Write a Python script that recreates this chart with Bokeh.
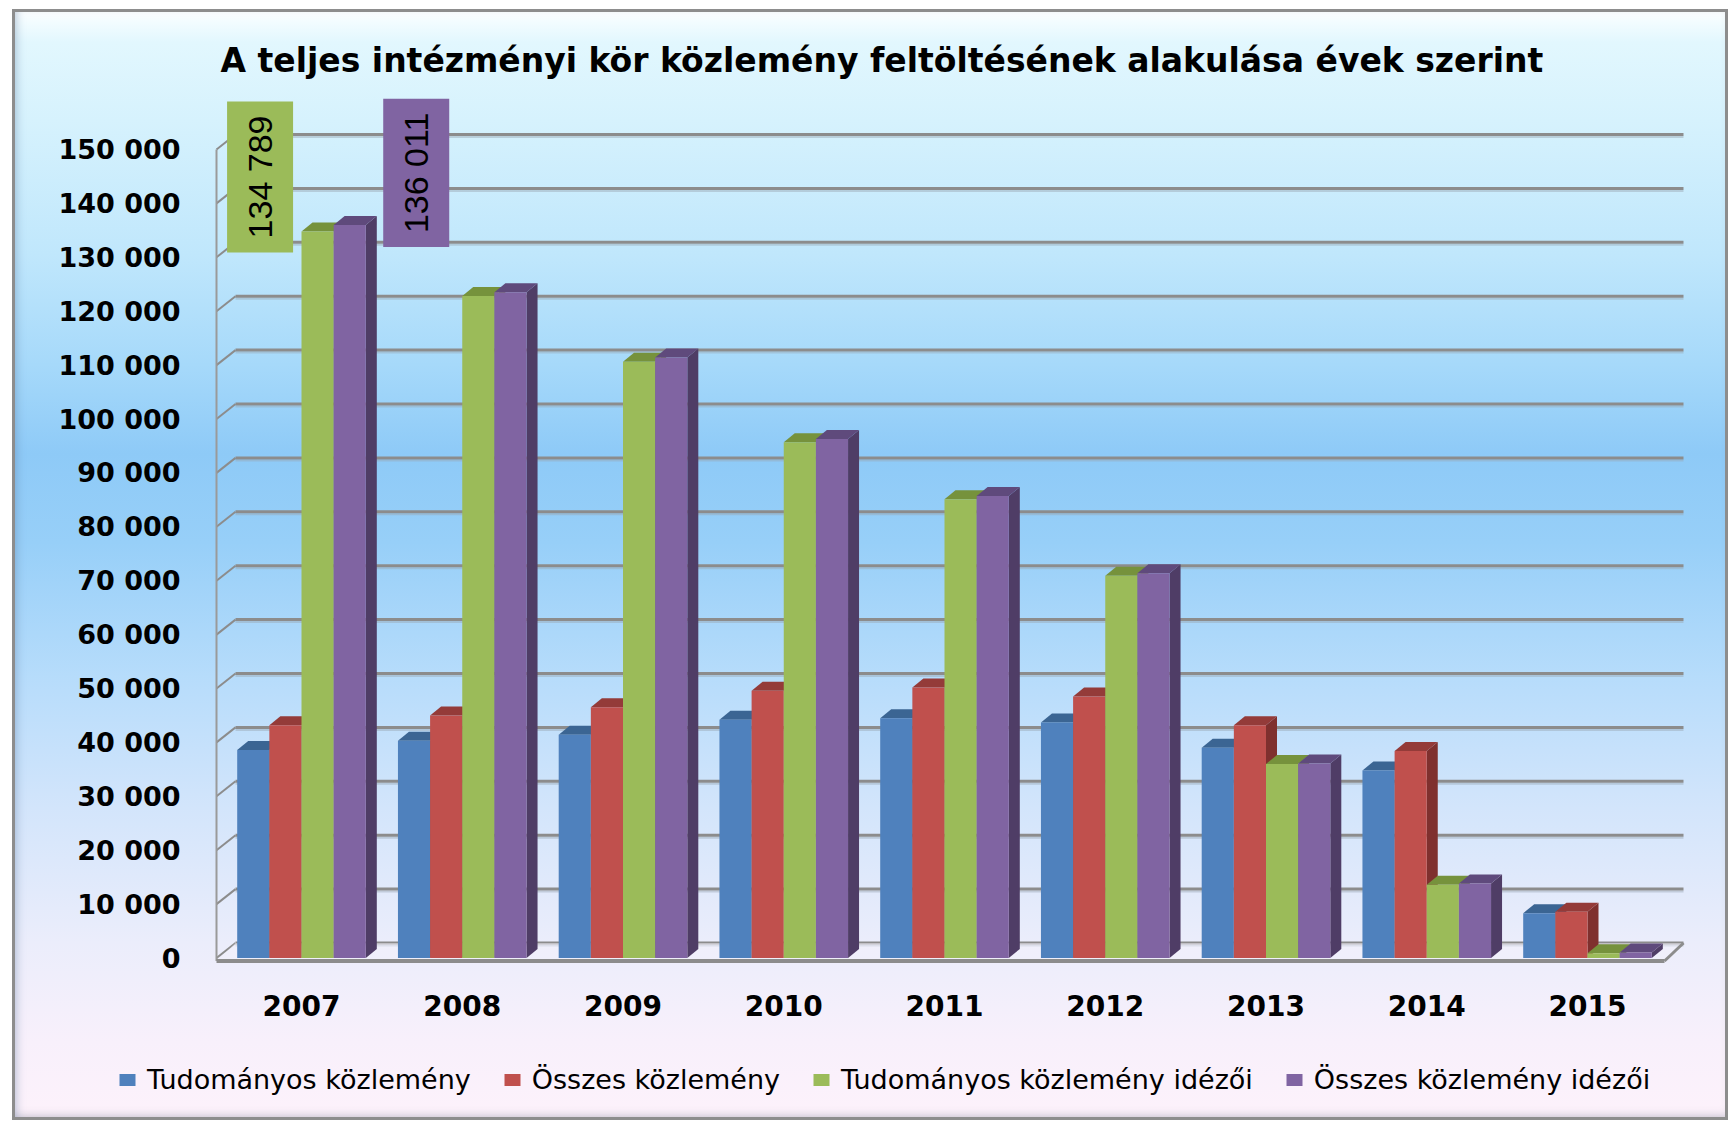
from bokeh.plotting import figure
from bokeh.models import Range1d, FixedTicker, Legend, LegendItem, Label
from bokeh.embed import file_html
from bokeh.resources import INLINE

# ---------------- data ----------------
years = ["2007", "2008", "2009", "2010", "2011", "2012", "2013", "2014", "2015"]
tudomanyos_kozlemeny = [38600, 40300, 41400, 44200, 44500, 43700, 39000, 34800, 8300]
osszes_kozlemeny = [43200, 45000, 46500, 49600, 50200, 48500, 43200, 38400, 8600]
tudomanyos_idezoi = [134789, 122800, 110600, 95700, 85100, 70900, 36000, 13600, 900]
osszes_idezoi = [136011, 123500, 111400, 96300, 85700, 71400, 36100, 13800, 1000]
series_names = ["Tudományos közlemény", "Összes közlemény",
                "Tudományos közlemény idézői", "Összes közlemény idézői"]
y_ticks = list(range(0, 150001, 10000))
title_text = "A teljes intézményi kör közlemény feltöltésének alakulása évek szerint"

series_values = [tudomanyos_kozlemeny, osszes_kozlemeny, tudomanyos_idezoi, osszes_idezoi]

# ---------------- styles / layout ----------------
front_colors = ["#4F81BD", "#C0504D", "#9BBB59", "#8064A2"]
top_colors = ["#3B6593", "#943B39", "#76923C", "#5F4A7C"]
side_colors = ["#36597F", "#7F302E", "#657E33", "#4F3D66"]

W, H = 1716, 1111
FT = 80                                      # frame top (canvas px); frame fills the rest
X0_PX = 289.0                                # canvas x of first group centre
PITCH = 160.75                               # px per category
Y0_PX = 948.5                                # canvas y of value 0
PXY = 53.9 / 10000.0                         # px per unit value

def dx(px):
    return px / PITCH

def dy(px):
    return px / PXY

x_start = (0 - X0_PX) / PITCH
x_end = (W - X0_PX) / PITCH
y_start = -(H - Y0_PX) / PXY
y_end = (Y0_PX - FT) / PXY

p = figure(width=W, height=H, x_range=Range1d(x_start, x_end), y_range=Range1d(y_start, y_end),
           output_backend="svg", toolbar_location=None,
           min_border_left=0, min_border_right=0, min_border_top=FT, min_border_bottom=0)
p.margin = (9, 0, 0, 12)
p.background_fill_color = None
p.border_fill_color = None
p.outline_line_color = None
p.xgrid.visible = False
p.ygrid.visible = False
p.styles = {
    "background": "linear-gradient(to bottom, #ffffff 0%, #f2fcff 1.2%, #e2f7fe 3%, #d6f2fd 10%, "
                  "#c0e7fc 22%, #a6d9fa 32%, #8ecaf7 40%, #97cff8 48%, #b6dcfb 60%, "
                  "#d3e5fb 72%, #ebedfb 84%, #f8f0fb 93%, #fdf2fb 100%)",
    "box-shadow": "inset 0 0 0 3px #8d8d8d, inset 7px 0 8px -2px rgba(90,120,160,0.35), "
                  "inset 0 -7px 8px -2px rgba(120,120,140,0.30)",
}

# title
p.title.text = title_text
p.title.align = "left"
p.title.offset = 208
p.title.standoff = 20
p.title.text_font = "DejaVu Sans"
p.title.text_font_style = "bold"
p.title.text_font_size = "33px"
p.title.text_color = "#000000"

# ---------------- 3D walls ----------------
WALL_DX, WALL_DY = 19, 15
x_wall = (204 - X0_PX) / PITCH
x_back_right = (1671 - X0_PX) / PITCH
floor_y = -dy(3)

# gridlines on back wall (with a soft lower shadow)
p.segment(x0=[x_wall + dx(WALL_DX)] * len(y_ticks), x1=[x_back_right] * len(y_ticks),
          y0=[v + dy(WALL_DY) - dy(2.5) for v in y_ticks], y1=[v + dy(WALL_DY) - dy(2.5) for v in y_ticks],
          line_color="#9aa6b2", line_alpha=0.45, line_width=2)
p.segment(x0=[x_wall + dx(WALL_DX)] * len(y_ticks), x1=[x_back_right] * len(y_ticks),
          y0=[v + dy(WALL_DY) for v in y_ticks], y1=[v + dy(WALL_DY) for v in y_ticks],
          line_color="#8c8c8c", line_width=3)
# left wall diagonals + vertical edge
p.segment(x0=[x_wall] * len(y_ticks), x1=[x_wall + dx(WALL_DX)] * len(y_ticks),
          y0=y_ticks, y1=[v + dy(WALL_DY) for v in y_ticks],
          line_color="#8c8c8c", line_width=2)
p.segment(x0=[x_wall], x1=[x_wall], y0=[floor_y], y1=[y_ticks[-1]], line_color="#9a9a9a", line_width=2)
# floor slab
x_front_right = x_back_right - dx(WALL_DX)
p.patch(x=[x_wall, x_front_right, x_back_right, x_wall + dx(WALL_DX)],
        y=[floor_y, floor_y, dy(WALL_DY), dy(WALL_DY)],
        fill_color="#f4f2fc", fill_alpha=0.5, line_color=None)
p.segment(x0=[x_wall], x1=[x_front_right], y0=[floor_y], y1=[floor_y], line_color="#8c8c8c", line_width=4)
p.segment(x0=[x_front_right], x1=[x_back_right], y0=[floor_y], y1=[dy(WALL_DY)],
          line_color="#8c8c8c", line_width=3)

# ---------------- 3D bars ----------------
offsets = [-0.3, -0.1, 0.1, 0.3]
bw = 0.2
DX, DY = dx(11), dy(9)
front_renderers = []
for s, vals in enumerate(series_values):
    xl = [i + offsets[s] - bw / 2 for i in range(len(years))]
    xr = [i + offsets[s] + bw / 2 for i in range(len(years))]
    side_xs = [[r, r, r + DX, r + DX] for r in xr]
    side_ys = [[0, v, v + DY, DY] for v in vals]
    top_xs = [[l, r, r + DX, l + DX] for l, r in zip(xl, xr)]
    top_ys = [[v, v, v + DY, v + DY] for v in vals]
    p.patches(xs=side_xs, ys=side_ys, fill_color=side_colors[s], line_color=None)
    p.patches(xs=top_xs, ys=top_ys, fill_color=top_colors[s], line_color=None)
    r = p.quad(left=xl, right=xr, bottom=[0] * len(vals), top=vals,
               fill_color=front_colors[s], line_color=None)
    front_renderers.append(r)

# ---------------- callouts ----------------
def fmt(v):
    return f"{v:,}".replace(",", " ")

callouts = [(2, 0, -57.5, 54.5), (3, 0, 66.5, 52.0)]
for s, i, xo, yo in callouts:
    p.add_layout(Label(x=i + offsets[s], y=series_values[s][i], x_offset=xo, y_offset=yo,
                       text=fmt(series_values[s][i]), angle=90, angle_units="deg",
                       text_align="center", text_baseline="middle",
                       text_font="Liberation Sans", text_font_size="34px", text_color="#000000",
                       background_fill_color=front_colors[s], padding=14))

# ---------------- axes (fixed inside the frame at the 3D wall / floor) ----------------
ya = p.yaxis[0]
ya.fixed_location = x_wall
ya.ticker = FixedTicker(ticks=y_ticks)
ya.major_label_overrides = {v: fmt(v) for v in y_ticks}
ya.axis_line_color = None
ya.major_tick_line_color = None
ya.minor_tick_line_color = None
ya.major_tick_out = 0
ya.minor_tick_out = 0
ya.major_label_standoff = 36
ya.major_label_text_font = "DejaVu Sans"
ya.major_label_text_font_style = "bold"
ya.major_label_text_font_size = "27px"
ya.major_label_text_color = "#000000"

xa = p.xaxis[0]
xa.fixed_location = floor_y
xa.ticker = FixedTicker(ticks=list(range(len(years))))
xa.major_label_overrides = {i: y for i, y in enumerate(years)}
xa.axis_line_color = None
xa.major_tick_line_color = None
xa.minor_tick_line_color = None
xa.major_tick_out = 0
xa.minor_tick_out = 0
xa.major_label_standoff = 34
xa.major_label_text_font = "DejaVu Sans"
xa.major_label_text_font_style = "bold"
xa.major_label_text_font_size = "28px"
xa.major_label_text_color = "#000000"

# ---------------- legend ----------------
legend = Legend(items=[LegendItem(label=n, renderers=[r]) for n, r in zip(series_names, front_renderers)],
                orientation="horizontal", location=(105, 25),
                glyph_width=20, glyph_height=15, label_standoff=10, spacing=31,
                padding=0, margin=0, background_fill_alpha=0, border_line_color=None,
                label_text_font="DejaVu Sans", label_text_font_size="27px", label_text_color="#000000")
p.add_layout(legend, "center")

open("out.html", "w").write(file_html(p, INLINE))
